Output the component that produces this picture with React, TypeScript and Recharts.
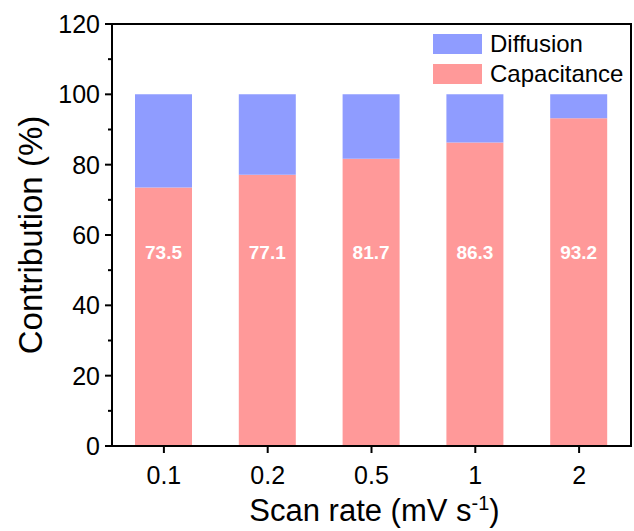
import React from 'react';
import { BarChart, Bar, XAxis, YAxis, LabelList, ReferenceArea } from 'recharts';

const rates = ['0.1', '0.2', '0.5', '1', '2'];
const capacitance = [73.5, 77.1, 81.7, 86.3, 93.2];
const diffusion = [26.5, 22.9, 18.3, 13.7, 6.8];
const yTicks = [0, 10, 20, 30, 40, 50, 60, 70, 80, 90, 100, 110, 120];

const CAP_COLOR = '#FF9999';
const DIF_COLOR = '#8F9CFF';
const FONT = '"Liberation Sans", Arial, sans-serif';
const LABEL_LEVEL = 55; // value level where the percentages sit

const data = rates.map((r, i) => ({ rate: r, cap: capacitance[i], dif: diffusion[i] }));

// y tick: major ticks get a label, minor ones only a short line
const YTick = (props: any) => {
  const { x, y, payload } = props;
  const axisX = x + 5 + 7;
  const major = payload.value % 20 === 0;
  return (
    <g>
      <line x1={axisX - (major ? 7 : 4)} x2={axisX} y1={y} y2={y} stroke="#000" strokeWidth={2} />
      {major && (
        <text x={x} y={y} dy="0.36em" textAnchor="end" fontSize={25} fontFamily={FONT} fill="#000">
          {payload.value}
        </text>
      )}
    </g>
  );
};

const ValueLabel = (props: any) => {
  const { x, y, width, height, value } = props;
  const bottom = y + height;
  const ly = bottom - (height * LABEL_LEVEL) / value;
  return (
    <text x={x + width / 2} y={ly} dy="0.36em" textAnchor="middle" fill="#fff" fontWeight="bold" fontSize={19} fontFamily={FONT}>
      {value}
    </text>
  );
};

const legendItems = [
  { name: 'Diffusion', color: DIF_COLOR },
  { name: 'Capacitance', color: CAP_COLOR },
];

const XTitle = (props: any) => {
  const { viewBox } = props;
  const cx = viewBox.x + viewBox.width / 2;
  return (
    <text x={cx + 3} y={521} textAnchor="middle" fontSize={31} fontFamily={FONT} fill="#000">
      Scan rate (mV s<tspan dy={-11} fontSize={20}>-1</tspan><tspan dy={11}>)</tspan>
    </text>
  );
};

const YTitle = (props: any) => {
  const { viewBox } = props;
  const cy = viewBox.y + viewBox.height / 2;
  return (
    <text x={42} y={cy} transform={`rotate(-90 42 ${cy})`} textAnchor="middle" fontSize={33} fontFamily={FONT} fill="#000">
      Contribution (%)
    </text>
  );
};

export default function App() {
  return (
    <div style={{ position: 'absolute', left: 0, top: 0, width: 634, height: 531, background: '#fff' }}>
      <BarChart
        width={634}
        height={531}
        data={data}
        margin={{ top: 24, right: 3, left: 0, bottom: 0 }}
        barCategoryGap="45%"
      >
        <XAxis
          dataKey="rate"
          height={85}
          axisLine={{ stroke: '#000', strokeWidth: 2 }}
          tickLine={{ stroke: '#000', strokeWidth: 2 }}
          tickSize={7}
          tickMargin={13}
          tick={{ fill: '#000', fontSize: 25, fontFamily: FONT }}
          label={<XTitle />}
        />
        <YAxis
          width={112}
          domain={[0, 120]}
          ticks={yTicks}
          interval={0}
          tickLine={false}
          tickSize={7}
          tickMargin={5}
          axisLine={{ stroke: '#000', strokeWidth: 2 }}
          tick={<YTick />}
          label={<YTitle />}
        />
        <Bar dataKey="cap" stackId="s" fill={CAP_COLOR} barSize={57} isAnimationActive={false}>
          <LabelList dataKey="cap" content={<ValueLabel />} />
        </Bar>
        <Bar dataKey="dif" stackId="s" fill={DIF_COLOR} barSize={57} isAnimationActive={false} />
        <ReferenceArea x1="0.1" x2="2" y1={0} y2={120} fill="none" stroke="#000" strokeWidth={2} ifOverflow="visible" />
      </BarChart>
      <div style={{ position: 'absolute', left: 433, top: 29, fontFamily: FONT, fontSize: 24, color: '#000' }}>
        {legendItems.map((it) => (
          <div key={it.name} style={{ display: 'flex', alignItems: 'center', height: 30 }}>
            <span style={{ display: 'inline-block', width: 49, height: 20, background: it.color, marginRight: 8 }} />
            <span>{it.name}</span>
          </div>
        ))}
      </div>
    </div>
  );
}
